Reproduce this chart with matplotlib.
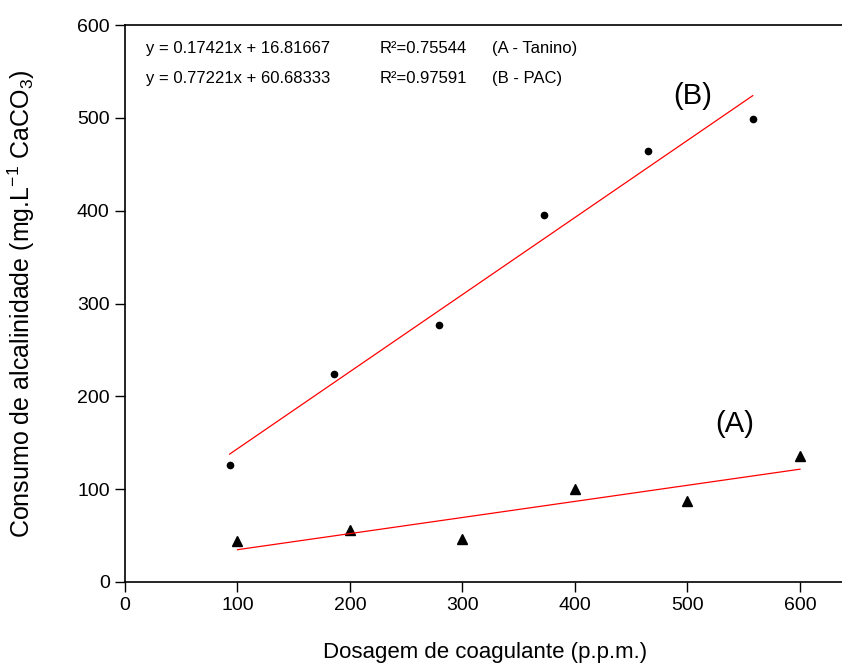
import numpy as np
import matplotlib
matplotlib.use('Agg')
import matplotlib.pyplot as plt

plt.rcParams['font.family'] = ['Liberation Sans', 'DejaVu Sans']
plt.rcParams['mathtext.default'] = 'regular'

# (A) Tanino - triangles
dose_a = [100, 200, 300, 400, 500, 600]
cons_a = [44, 56, 46, 100, 87, 136]
# (B) PAC - circles
dose_b = [93, 186, 279, 372, 465, 558]
cons_b = [126, 224, 277, 395, 464, 499]

eq_lines = ['y = 0.17421x + 16.81667', 'y = 0.77221x + 60.68333']
r2_lines = ['R²=0.75544', 'R²=0.97591']
name_lines = ['(A - Tanino)', '(B - PAC)']

fig = plt.figure(figsize=(8.42, 6.63), dpi=100)
ax = fig.add_axes([125/842, 81/663, 720/842, 557/663])

ax.plot(dose_b, cons_b, 'o', color='black', markersize=4.5)
ax.plot(dose_a, cons_a, '^', color='black', markersize=6.5)

for xs, ys in [(dose_a, cons_a), (dose_b, cons_b)]:
    xs = np.array(xs, dtype=float)
    k, b = np.polyfit(xs, ys, 1)
    ax.plot(xs[[0, -1]], k * xs[[0, -1]] + b, color='red', lw=0.9)

ax.set_xlim(0, 640)
ax.set_ylim(0, 600)
ax.set_xticks(range(0, 601, 100))
ax.set_yticks(range(0, 601, 100))
ax.tick_params(direction='out', length=7, width=1, labelsize=14, pad=4)
for s in ax.spines.values():
    s.set_linewidth(1.2)

for i in range(2):
    yy = 575 - i * 33
    ax.text(19, yy, eq_lines[i], fontsize=12, va='center')
    ax.text(226, yy, r2_lines[i], fontsize=12, va='center')
    ax.text(326, yy, name_lines[i], fontsize=12, va='center')

ax.text(505, 523, '(B)', fontsize=21, ha='center', va='center')
ax.text(542, 170, '(A)', fontsize=21, ha='center', va='center')

ax.set_xlabel('Dosagem de coagulante (p.p.m.)', fontsize=16, labelpad=20)
ax.set_ylabel('Consumo de alcalinidade (mg.L$^{-1}$ CaCO$_3$)', fontsize=18)
ax.yaxis.set_label_coords(-0.122, 0.5)

plt.savefig('out.png', dpi=100)
